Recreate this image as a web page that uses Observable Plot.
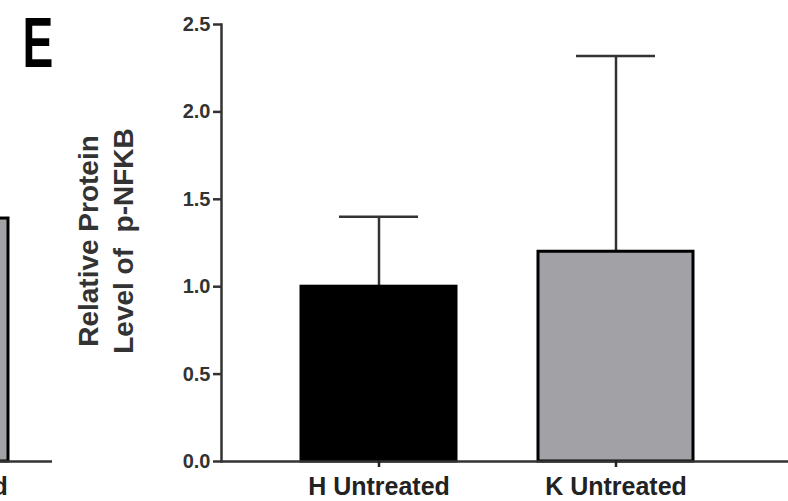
<!DOCTYPE html>
<html><head><meta charset="utf-8">
<script src="https://cdn.jsdelivr.net/npm/d3@7"></script>
<script src="https://cdn.jsdelivr.net/npm/@observablehq/plot@0.6"></script>
<style>
html,body{margin:0;padding:0;background:#fff;overflow:hidden;}
#wrap{position:relative;width:788px;height:501px;overflow:hidden;}
#frag{position:absolute;left:-188px;top:0;}
#main{position:absolute;left:0;top:0;}
</style></head><body><div id="wrap"><div id="frag"></div><div id="main"></div></div>
<script>
// Panel E data
const groups = ["H Untreated", "K Untreated"];
const means = [1.0, 1.2];
const sems = [0.40, 1.12];
const fills = ["#000000", "#a2a1a6"];
const yTicks = [0, 0.5, 1.0, 1.5, 2.0, 2.5];
const yLabel = "Relative Protein\nLevel of  p-NFKB";
const panelLetter = "E";
// fragment of the previous panel (D), visible at the left edge
const prevGroups = ["K Untreated"];
const prevMeans = [1.39];
const prevFills = ["#a2a1a6"];

const font = "'Liberation Sans', Arial, Helvetica, sans-serif";
const data = groups.map((g, i) => ({group: g, mean: means[i], top: means[i] + sems[i], fill: fills[i]}));
const prevData = prevGroups.map((g, i) => ({group: g, mean: prevMeans[i], fill: prevFills[i]}));

const main = Plot.plot({
  width: 788, height: 501,
  marginLeft: 221, marginRight: 0, marginTop: 24, marginBottom: 40,
  style: {fontFamily: font, background: "transparent", overflow: "visible"},
  x: {domain: groups, range: [300.7, 693.2], paddingInner: 0.347, paddingOuter: 0, label: null},
  y: {domain: [0, 2.5], label: null},
  color: {type: "identity"},
  marks: [
    Plot.ruleX(data, {x: "group", y1: "mean", y2: "top", stroke: "#333", strokeWidth: 2.5}),
    Plot.tickY(data, {x: "group", y: "top", stroke: "#333", strokeWidth: 2.5, insetLeft: 38, insetRight: 38}),
    Plot.barY(data, {x: "group", y: "mean", fill: "fill", stroke: "#000", strokeWidth: 3}),
    Plot.frame({anchor: "left", stroke: "#333", strokeWidth: 2.5}),
    Plot.ruleY([0], {stroke: "#333", strokeWidth: 2.5}),
    Plot.axisY({ticks: yTicks, tickFormat: d3.format(".1f"), tickSize: 8, tickPadding: 3,
      fontSize: 20, fontWeight: "bold", color: "#333", strokeWidth: 2.5, label: null}),
    Plot.axisX({tickSize: 6, tickPadding: 10, fontSize: 25, fontWeight: "bold",
      color: "#222", strokeWidth: 2.5, label: null}),
    Plot.text([yLabel], {frameAnchor: "left", dx: -117.5, dy: -2, rotate: -90, fontSize: 28,
      fontWeight: "bold", lineHeight: 1.25, fill: "#333", textAnchor: "middle"}),
    Plot.text([panelLetter], {frameAnchor: "top-left", dx: -199, dy: -7, textAnchor: "start",
      lineAnchor: "top", fontSize: 70, fontFamily: font, fontWeight: "bold", fill: "#000"})
  ]
});
// narrow the panel letter horizontally
main.querySelectorAll("text").forEach(t => {
  if (t.textContent === panelLetter) {
    const tr = t.getAttribute("transform") || "";
    t.setAttribute("transform", tr + " scale(0.66,1)");
  }
});
document.getElementById("main").appendChild(main);

const frag = Plot.plot({
  width: 240, height: 501,
  marginLeft: 0, marginRight: 0, marginTop: 24, marginBottom: 40,
  style: {fontFamily: font, background: "transparent", overflow: "visible"},
  x: {domain: prevGroups, range: [41, 196], padding: 0, label: null},
  y: {domain: [0, 2.5], axis: null},
  color: {type: "identity"},
  marks: [
    Plot.barY(prevData, {x: "group", y: "mean", fill: "fill", stroke: "#000", strokeWidth: 3}),
    Plot.ruleY([0], {stroke: "#333", strokeWidth: 2.5}),
    Plot.axisX({tickSize: 6, tickPadding: 10, fontSize: 25, fontWeight: "bold",
      color: "#222", strokeWidth: 2.5, label: null, dx: 6})
  ]
});
document.getElementById("frag").appendChild(frag);
</script></body></html>
